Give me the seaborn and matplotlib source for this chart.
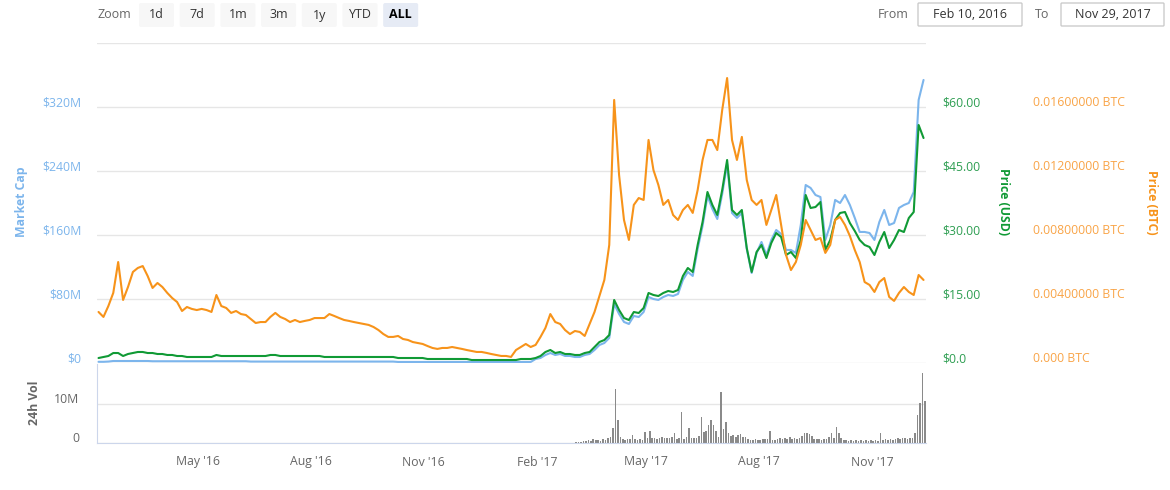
import matplotlib
matplotlib.use("Agg")
import matplotlib.pyplot as plt
import matplotlib.transforms as mtransforms
from matplotlib.patches import FancyBboxPatch
import seaborn as sns
import pandas as pd

sns.set_style("white")
plt.rcParams['font.family'] = ['Open Sans', 'DejaVu Sans']

# price in BTC, sampled every 4 days from Feb 10, 2016
btc_price = [
    0.00319, 0.00288, 0.00356, 0.00438, 0.00631, 0.00394, 0.00475, 0.00569, 0.00594, 0.00606,
    0.00544, 0.00469, 0.00500, 0.00475, 0.00438, 0.00406, 0.00381, 0.00325, 0.00350, 0.00338,
    0.00331, 0.00338, 0.00331, 0.00319, 0.00425, 0.00356, 0.00344, 0.00313, 0.00325, 0.00306,
    0.00300, 0.00275, 0.00250, 0.00256, 0.00256, 0.00288, 0.00313, 0.00288, 0.00275, 0.00256,
    0.00269, 0.00256, 0.00263, 0.00269, 0.00281, 0.00281, 0.00281, 0.00306, 0.00294, 0.00281,
    0.00269, 0.00263, 0.00256, 0.00250, 0.00244, 0.00238, 0.00225, 0.00206, 0.00181, 0.00163,
    0.00163, 0.00169, 0.00150, 0.00144, 0.00131, 0.00125, 0.00119, 0.00106, 0.00094, 0.00088,
    0.00094, 0.00094, 0.00100, 0.00094, 0.00088, 0.00081, 0.00075, 0.00069, 0.00069, 0.00063,
    0.00056, 0.00050, 0.00044, 0.00044, 0.00038, 0.00081, 0.00100, 0.00119, 0.00100, 0.00113,
    0.00163, 0.00219, 0.00306, 0.00256, 0.00244, 0.00206, 0.00181, 0.00200, 0.00194, 0.00169,
    0.00244, 0.00319, 0.00419, 0.00519, 0.00738, 0.01644, 0.01175, 0.00894, 0.00769, 0.00988,
    0.01031, 0.01019, 0.01394, 0.01206, 0.01113, 0.00988, 0.01019, 0.00925, 0.00894, 0.00956,
    0.00988, 0.00938, 0.01081, 0.01269, 0.01394, 0.01394, 0.01331, 0.01581, 0.01781, 0.01394,
    0.01269, 0.01413, 0.01144, 0.01019, 0.00988, 0.01019, 0.00863, 0.00956, 0.01050, 0.00863,
    0.00675, 0.00581, 0.00631, 0.00738, 0.00894, 0.00831, 0.00769, 0.00781, 0.00688, 0.00738,
    0.00894, 0.00913, 0.00863, 0.00794, 0.00706, 0.00631, 0.00506, 0.00488, 0.00444, 0.00506,
    0.00531, 0.00413, 0.00388, 0.00438, 0.00475, 0.00444, 0.00425, 0.00550, 0.00519,
]

# price in USD
usd_price = [
    1.17, 1.41, 1.64, 2.34, 2.34, 1.64, 2.11, 2.34, 2.58, 2.58,
    2.34, 2.34, 2.11, 2.11, 1.88, 1.88, 1.64, 1.64, 1.41, 1.41,
    1.41, 1.41, 1.41, 1.41, 1.88, 1.64, 1.64, 1.64, 1.64, 1.64,
    1.64, 1.64, 1.64, 1.64, 1.64, 1.88, 1.88, 1.64, 1.64, 1.64,
    1.64, 1.64, 1.64, 1.64, 1.64, 1.64, 1.41, 1.41, 1.41, 1.41,
    1.41, 1.41, 1.41, 1.41, 1.41, 1.41, 1.41, 1.41, 1.41, 1.41,
    1.41, 1.17, 1.17, 1.17, 1.17, 1.17, 1.17, 0.94, 0.94, 0.94,
    0.94, 0.94, 0.94, 0.94, 0.94, 0.94, 0.70, 0.70, 0.70, 0.70,
    0.70, 0.70, 0.70, 0.70, 0.70, 0.70, 0.94, 0.94, 0.94, 1.17,
    1.64, 2.58, 3.05, 2.34, 2.58, 2.11, 2.11, 1.88, 1.88, 2.34,
    2.58, 3.75, 4.92, 5.39, 6.56, 14.77, 12.42, 10.55, 10.08, 11.95,
    11.72, 12.89, 16.41, 15.94, 15.70, 16.41, 16.88, 16.64, 17.11, 20.39,
    22.27, 21.33, 27.66, 33.05, 40.08, 37.03, 34.69, 40.55, 47.58, 35.86,
    34.69, 35.86, 26.95, 21.33, 26.02, 27.66, 24.61, 28.13, 30.47, 29.53,
    25.31, 26.02, 24.61, 28.83, 39.38, 36.33, 36.56, 37.73, 26.48, 28.83,
    33.52, 35.16, 35.39, 32.81, 30.94, 28.83, 27.66, 27.19, 25.31, 28.36,
    30.70, 26.95, 28.83, 31.17, 30.70, 33.98, 35.39, 55.78, 52.73,
]

# market cap, $ millions
market_cap = [
    1.5, 1.5, 1.8, 2.5, 2.5, 2.5, 2.5, 2.5, 2.5, 2.5,
    2.5, 2.2, 2.2, 2.2, 2.2, 2.2, 2.2, 2.2, 2.2, 2.2,
    2.2, 2.2, 2.2, 2.2, 2.2, 2.2, 2.2, 2.2, 2.2, 2.2,
    2.2, 1.8, 1.8, 1.8, 1.8, 1.8, 1.8, 1.8, 1.8, 1.8,
    1.8, 1.8, 1.8, 1.8, 1.8, 1.8, 1.8, 1.8, 1.8, 1.8,
    1.8, 1.8, 1.8, 1.8, 1.8, 1.8, 1.8, 1.8, 1.8, 1.8,
    1.8, 1.3, 1.3, 1.3, 1.3, 1.3, 1.3, 1.3, 1.3, 1.3,
    1.3, 1.3, 1.3, 1.3, 1.3, 1.3, 1.3, 1.3, 1.3, 1.3,
    1.3, 1.3, 1.3, 1.3, 1.3, 1.3, 1.3, 1.3, 1.3, 5.0,
    6.3, 10.0, 12.5, 10.0, 11.3, 8.8, 8.8, 7.5, 7.5, 10.0,
    11.3, 16.3, 22.5, 25.0, 31.3, 73.8, 61.3, 51.3, 48.8, 58.8,
    57.5, 63.8, 82.5, 80.0, 78.8, 82.5, 85.0, 83.8, 86.3, 103.8,
    113.8, 108.8, 142.5, 171.3, 208.8, 192.5, 180.0, 211.3, 248.8, 187.5,
    181.3, 187.5, 142.5, 112.5, 137.5, 151.3, 135.0, 153.8, 166.3, 161.3,
    141.3, 141.3, 137.5, 172.5, 222.5, 218.8, 210.0, 207.5, 153.8, 172.5,
    203.8, 200.0, 210.0, 197.5, 181.3, 163.8, 163.8, 162.5, 153.8, 176.3,
    191.3, 172.5, 175.0, 193.8, 197.5, 200.0, 213.8, 328.8, 353.8,
]

# 24h volume, $ millions, every 2 days from Mar 1, 2017
volume = [
    0.1, 0.1, 0.2, 0.2, 0.3, 0.4, 0.5, 0.8, 0.6, 1.0,
    0.7, 0.8, 0.6, 0.9, 0.7, 1.2, 1.5, 3.8, 13.8, 5.9,
    1.6, 1.0, 0.8, 1.1, 0.9, 2.0, 0.9, 0.8, 1.0, 0.7,
    2.8, 1.3, 3.0, 1.2, 1.4, 1.1, 1.3, 1.6, 1.2, 1.4,
    1.3, 1.5, 2.6, 1.0, 1.2, 8.0, 1.0, 1.6, 3.8, 1.3,
    1.4, 1.2, 1.8, 6.6, 2.8, 3.1, 4.6, 5.9, 4.6, 3.1,
    1.5, 13.1, 3.6, 5.4, 2.6, 1.8, 2.1, 1.5, 2.1, 2.3,
    1.5, 1.5, 1.0, 0.8, 0.8, 1.0, 0.8, 0.8, 1.0, 1.0,
    1.1, 3.0, 0.8, 0.8, 1.0, 1.2, 0.9, 1.3, 1.1, 1.5,
    1.0, 1.2, 0.9, 1.3, 1.8, 2.6, 2.6, 2.3, 1.8, 1.0,
    0.9, 1.0, 0.8, 1.0, 0.9, 1.6, 2.6, 1.2, 4.1, 2.6,
    1.2, 0.8, 0.7, 0.6, 0.8, 0.6, 0.7, 0.6, 0.8, 0.6,
    0.7, 0.5, 0.7, 0.6, 0.7, 0.6, 2.6, 0.8, 0.9, 0.7,
    1.0, 0.8, 1.0, 1.2, 1.1, 1.3, 1.2, 1.1, 1.4, 1.3,
    2.6, 7.2, 10.3, 18.0, 10.8,
]

month_ticks = ['2016-05-01', '2016-08-01', '2016-11-01', '2017-02-01',
               '2017-05-01', '2017-08-01', '2017-11-01']
month_labels = ["May '16", "Aug '16", "Nov '16", "Feb '17", "May '17", "Aug '17", "Nov '17"]

mcap_ticks = [0, 80, 160, 240, 320, 400]
mcap_labels = ['$0', '$80M', '$160M', '$240M', '$320M', '']
usd_ticks = [0, 15, 30, 45, 60]
usd_labels = ['$0.0', '$15.00', '$30.00', '$45.00', '$60.00']
btc_ticks = [0, 0.004, 0.008, 0.012, 0.016]
btc_labels = ['0.000 BTC', '0.00400000 BTC', '0.00800000 BTC', '0.01200000 BTC', '0.01600000 BTC']

zoom_buttons = ['1d', '7d', '1m', '3m', '1y', 'YTD', 'ALL']
date_from = 'Feb 10, 2016'
date_to = 'Nov 29, 2017'

dates = pd.date_range('2016-02-10', periods=len(btc_price), freq='4D')
vol_dates = pd.date_range('2017-03-01', periods=len(volume), freq='2D')
df = pd.DataFrame({'date': dates, 'mcap': market_cap, 'usd': usd_price, 'btc': btc_price})

BLUE = '#7cb5ec'
GREEN = '#109a35'
ORANGE = '#f7931a'
GRID = '#e6e6e6'
AXIS = '#ccd6eb'
FS = 8.8

W, H = 1170, 490
fig = plt.figure(figsize=(W / 100, H / 100), dpi=100)


def box(x0, y0, x1, y1):
    return [x0 / W, 1 - y1 / H, (x1 - x0) / W, (y1 - y0) / H]


ax_vol = fig.add_axes(box(97, 364, 926, 443))
ax = fig.add_axes(box(97, 43, 926, 363), sharex=ax_vol)
ax_usd = ax.twinx()
ax_btc = ax.twinx()

sns.lineplot(data=df, x='date', y='mcap', ax=ax, color=BLUE, linewidth=1.5, legend=False)
sns.lineplot(data=df, x='date', y='usd', ax=ax_usd, color=GREEN, linewidth=1.5, legend=False)
sns.lineplot(data=df, x='date', y='btc', ax=ax_btc, color=ORANGE, linewidth=1.5, legend=False)
ax_vol.bar(vol_dates, volume, width=1.3, color='#8a8a8a', linewidth=0)

for a in (ax, ax_usd, ax_btc, ax_vol):
    a.set_xlabel('')
    a.set_ylabel('')
    for s in a.spines.values():
        s.set_visible(False)

ax_vol.set_xlim(pd.Timestamp('2016-02-08 18:00'), pd.Timestamp('2017-12-15'))

# main panel
ax.set_ylim(0, 400)
ax.set_yticks(mcap_ticks)
ax.set_yticklabels(mcap_labels)
ax.yaxis.grid(True, color=GRID, linewidth=1)
ax.set_axisbelow(True)
ax.tick_params(axis='y', length=0, pad=11, labelsize=FS, labelcolor=BLUE)
ax.tick_params(axis='x', bottom=False, labelbottom=False)

ax_usd.set_ylim(0, 75)
ax_usd.set_yticks(usd_ticks)
ax_usd.set_yticklabels(usd_labels)
ax_usd.tick_params(axis='y', length=0, pad=12, labelsize=FS, labelcolor='#2e9e52')

ax_btc.set_ylim(0, 0.02)
ax_btc.set_yticks(btc_ticks)
ax_btc.set_yticklabels(btc_labels)
ax_btc.tick_params(axis='y', length=0, pad=77, labelsize=FS, labelcolor='#f9a447')

# volume panel
ax_vol.set_ylim(0, 20.25)
ax_vol.set_yticks([0, 10])
ax_vol.set_yticklabels(['0', '10M'])
ax_vol.yaxis.grid(True, color=GRID, linewidth=1)
ax_vol.set_axisbelow(True)
ax_vol.tick_params(axis='y', length=0, pad=13, labelsize=FS, labelcolor='#666666')
ax_vol.spines['left'].set_visible(True)
ax_vol.spines['bottom'].set_visible(True)
ax_vol.spines['left'].set_color(AXIS)
ax_vol.spines['bottom'].set_color(AXIS)
ax_vol.set_xticks(pd.to_datetime(month_ticks))
ax_vol.set_xticklabels(month_labels)
ax_vol.tick_params(axis='x', length=6.5, width=1, color=AXIS, pad=2.5,
                   labelsize=FS, labelcolor='#666666')

# y labels sit a little above their grid lines
lift = mtransforms.ScaledTranslation(0, 6 / 100, fig.dpi_scale_trans)
for a in (ax, ax_usd, ax_btc, ax_vol):
    for lab in a.get_yticklabels():
        lab.set_transform(lab.get_transform() + lift)

# overlay in pixel coordinates for titles and the toolbar
ov = fig.add_axes([0, 0, 1, 1])
ov.set_xlim(0, W)
ov.set_ylim(H, 0)
ov.axis('off')
ov.patch.set_visible(False)

ov.text(22, 202, 'Market Cap', rotation=90, ha='center', va='center',
        color=BLUE, fontsize=FS, fontweight='bold')
ov.text(1003, 202, 'Price (USD)', rotation=270, ha='center', va='center',
        color=GREEN, fontsize=FS, fontweight='bold')
ov.text(1151, 202, 'Price (BTC)', rotation=270, ha='center', va='center',
        color=ORANGE, fontsize=FS, fontweight='bold')
ov.text(35, 403, '24h Vol', rotation=90, ha='center', va='center',
        color='#666666', fontsize=FS, fontweight='bold')

ov.text(97, 15, 'Zoom', ha='left', va='center', color='#666666', fontsize=9)
for k, name in enumerate(zoom_buttons):
    x0 = 139 + k * 40.7
    active = name == 'ALL'
    ov.add_patch(FancyBboxPatch((x0, 3), 35, 24, boxstyle='round,pad=0,rounding_size=2',
                                facecolor='#e6ebf5' if active else '#f7f7f7',
                                edgecolor='none'))
    ov.text(x0 + 17.5, 15, name, ha='center', va='center', fontsize=9,
            color='#000000' if active else '#333333',
            fontweight='bold' if active else 'normal')

ov.text(878, 15, 'From', ha='left', va='center', color='#666666', fontsize=9)
ov.add_patch(FancyBboxPatch((918, 3), 104, 23, boxstyle='round,pad=0,rounding_size=1',
                            facecolor='white', edgecolor='#cccccc', linewidth=1))
ov.text(970, 14.5, date_from, ha='center', va='center', color='#333333', fontsize=9)
ov.text(1035, 15, 'To', ha='left', va='center', color='#666666', fontsize=9)
ov.add_patch(FancyBboxPatch((1061, 3), 103, 23, boxstyle='round,pad=0,rounding_size=1',
                            facecolor='white', edgecolor='#cccccc', linewidth=1))
ov.text(1112.5, 14.5, date_to, ha='center', va='center', color='#333333', fontsize=9)

fig.savefig('out.png', dpi=100)
